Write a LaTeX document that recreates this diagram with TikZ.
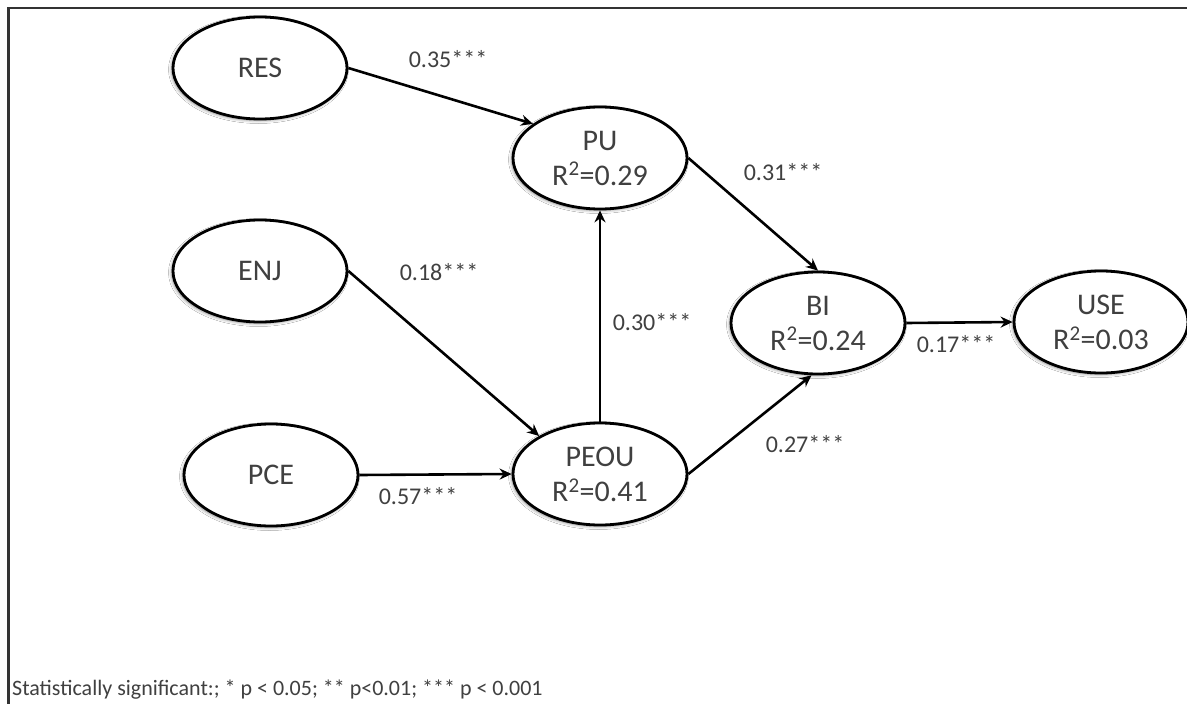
\documentclass[tikz,border=0pt]{standalone}
\usepackage{fontspec}
\setmainfont{Carlito}
\usetikzlibrary{shapes.geometric,arrows.meta,shadows.blur}
\definecolor{txt}{HTML}{404040}
\definecolor{frame}{HTML}{333333}
\tikzset{
  construct/.style={ellipse, draw=black, line width=2.8pt, fill=white,
    minimum width=174pt, minimum height=102pt, inner sep=0pt,
    align=center, text=txt, font=\fontsize{30}{35}\selectfont,
    blur shadow={shadow xshift=-1.5pt, shadow yshift=-1.5pt,
      shadow blur radius=3pt, shadow opacity=45}},
  path/.style={line width=2.6pt, draw=black,
    -{Stealth[length=12pt,width=11pt,inset=4pt]}},
  coef/.style={text=txt, font=\fontsize{24}{26}\selectfont, inner sep=0pt},
}
\begin{document}
\begin{tikzpicture}[x=1pt,y=-1pt]
  \useasboundingbox (0,0) rectangle (1187,704);
  \fill[white] (0,0) rectangle (1187,704);
  % frame edges
  \draw[frame, line width=2.8pt] (8.5,704) -- (8.5,8) -- (1187,8);

  % constructs
  \node[construct] (res)  at (260,68)  {RES};
  \node[construct] (pu)   at (600,158) {PU\\R\textsuperscript{2}=0.29};
  \node[construct] (enj)  at (260,271) {ENJ};
  \node[construct] (pce)  at (271,475) {PCE};
  \node[construct] (peou) at (600,474) {PEOU\\R\textsuperscript{2}=0.41};
  \node[construct] (bi)   at (818,323) {BI\\R\textsuperscript{2}=0.24};
  \node[construct] (use)  at (1101,322) {USE\\R\textsuperscript{2}=0.03};

  % structural paths
  \draw[path] (res.east)  -- (pu.153);
  \draw[path] (enj.east)  -- (peou.148);
  \draw[path] (pce.east)  -- (peou.west);
  \draw[path] (peou.north) -- (pu.south);
  \draw[path] (pu.east)   -- (bi.north);
  \draw[path] (peou.east) -- (bi.263);
  \draw[path] (bi.east)   -- (use.west);

  % path coefficients
  \node[coef] (c1) at (448,59)  {0.35***};
  \node[coef] (c2) at (783,172) {0.31***};
  \node[coef] (c3) at (439,272) {0.18***};
  \node[coef] (c4) at (652,322) {0.30***};
  \node[coef] (c5) at (956,344) {0.17***};
  \node[coef] (c6) at (805,444) {0.27***};
  \node[coef] (c7) at (418,496) {0.57***};

  % significance note
  \node[coef, anchor=west, font=\fontsize{22}{24}\selectfont] (note) at (12,690)
    {Statistically significant:; * p < 0.05; ** p<0.01; *** p < 0.001};
\end{tikzpicture}
\end{document}
